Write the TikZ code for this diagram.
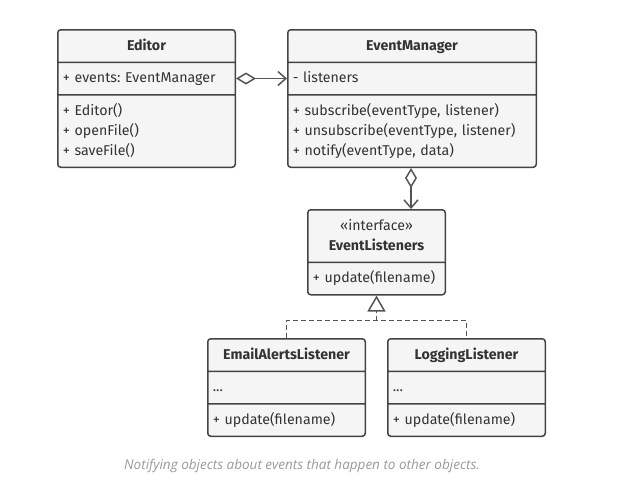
\documentclass[tikz,border=0pt]{standalone}
\usepackage{fontspec}
\setmainfont{Fira Sans}
\newfontfamily\capfont{Open Sans}
\usetikzlibrary{shapes.multipart,arrows.meta,positioning}

\definecolor{boxfill}{HTML}{F5F5F5}
\definecolor{boxline}{HTML}{444444}
\definecolor{txtgray}{HTML}{333333}
\definecolor{linkgray}{HTML}{555555}
\definecolor{capgray}{HTML}{999999}

\tikzset{
  umlclass/.style={rectangle split, rectangle split parts=3, draw=boxline,
    fill=boxfill, line width=1.5pt, rounded corners=3pt, inner xsep=5pt,
    inner ysep=5.5pt, anchor=north west, align=left, text=txtgray,
    font=\fontsize{14.2}{20}\selectfont\frenchspacing},
  aggr/.style={draw=linkgray, line width=1.5pt,
    {Diamond[open, length=20pt, width=12pt]}-{Straight Barb[length=8pt, width=14pt]}},
  realize/.style={draw=linkgray, line width=1.5pt, dash pattern=on 5pt off 3pt},
  caption/.style={text=capgray, font=\capfont\itshape\fontsize{13.5}{16}\selectfont}
}

\begin{document}
\begin{tikzpicture}[x=1pt,y=-1pt]
  \useasboundingbox (0,0) rectangle (635,501);

  % classes
  \node[umlclass, text width=167.5pt] (editor) at (57,29)
    {\centering\bfseries\strut Editor\par
     \nodepart{two}\strut + events: EventManager
     \nodepart{three}\strut + Editor()\\\strut + openFile()\\\strut + saveFile()};
  \node[umlclass, text width=238.5pt] (manager) at (287,29)
    {\centering\bfseries\strut EventManager\par
     \nodepart{two}\strut - listeners
     \nodepart{three}\strut + subscribe(eventType, listener)\\
       \strut + unsubscribe(eventType, listener)\\\strut + notify(eventType, data)};
  \node[umlclass, rectangle split parts=2, text width=127.5pt] (listeners) at (307,209)
    {\centering\strut «interface»\\\bfseries\strut EventListeners\par
     \nodepart{two}\strut + update(filename)};
  \node[umlclass, text width=147.5pt] (email) at (207,338)
    {\centering\bfseries\strut EmailAlertsListener\par
     \nodepart{two}\strut ...
     \nodepart{three}\strut + update(filename)};
  \node[umlclass, text width=147.5pt] (logging) at (387,338)
    {\centering\bfseries\strut LoggingListener\par
     \nodepart{two}\strut ...
     \nodepart{three}\strut + update(filename)};

  % links
  \draw[aggr] (editor.two east) -- (editor.two east -| manager.west);
  \draw[aggr] (manager.south -| 411,0) -- (listeners.north -| 411,0);
  \coordinate[below=25pt of listeners.south] (fork);
  \draw[realize] (email.north) |- (fork) -| (logging.north);
  \draw[realize, -{Triangle[open, fill=white, length=16pt, width=18pt]}] (fork) -- (listeners.south);

  \node[caption] (cap) at (302,466) {Notifying objects about events that happen to other objects.};
\end{tikzpicture}
\end{document}
